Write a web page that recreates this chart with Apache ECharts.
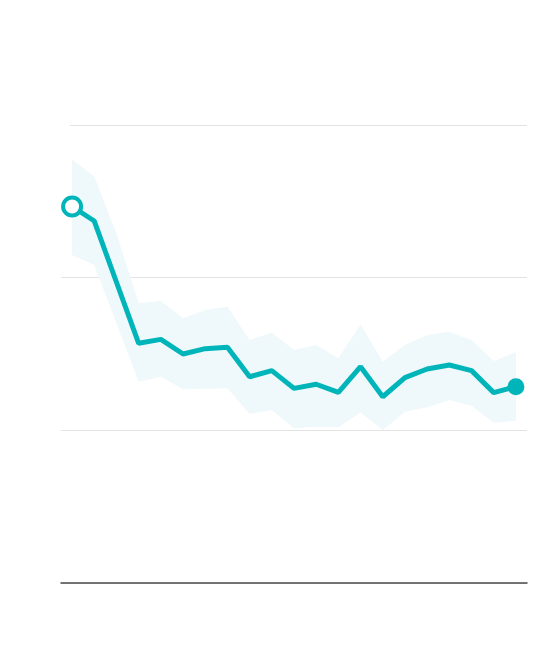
<!DOCTYPE html>
<html>
<head>
<meta charset="utf-8">
<script src="https://cdn.jsdelivr.net/npm/echarts@6/dist/echarts.min.js"></script>
<style>html,body{margin:0;padding:0;background:#fff;}#c{width:560px;height:662px;}</style>
</head>
<body>
<div id="c"></div>
<script>
var categories = ['1','2','3','4','5','6','7','8','9','10','11','12','13','14','15','16','17','18','19','20','21'];
var mainValues = [2.466,2.371,1.97,1.570,1.596,1.500,1.535,1.544,1.351,1.391,1.275,1.302,1.249,1.417,1.220,1.345,1.402,1.428,1.391,1.247,1.286];
var upperValues = [2.775,2.661,2.290,1.832,1.847,1.734,1.788,1.810,1.592,1.640,1.526,1.559,1.472,1.694,1.450,1.559,1.624,1.646,1.592,1.454,1.511];
var lowerValues = [2.148,2.083,1.701,1.319,1.351,1.269,1.273,1.275,1.107,1.133,1.013,1.024,1.020,1.118,1.002,1.122,1.151,1.199,1.161,1.050,1.063];
var yTicks = [0, 1, 2, 3];

var teal = '#00b5b9';
var gridColor = '#e3e3e3';
var bandData = upperValues.map(function(u, i){ return +(u - lowerValues[i]).toFixed(3); });
var lineData = mainValues.map(function(v, i){
  if (i === 0) return {value: v, symbol: 'circle', symbolSize: 18, itemStyle: {color: '#ffffff', borderColor: teal, borderWidth: 4}};
  if (i === mainValues.length - 1) return {value: v, symbol: 'circle', symbolSize: 17, itemStyle: {color: teal, borderColor: teal, borderWidth: 0}};
  return {value: v, symbol: 'none'};
});
var topY = yTicks[yTicks.length - 1];

var chart = echarts.init(document.getElementById('c'), null, {renderer: 'canvas'});
chart.setOption({
  animation: false,
  backgroundColor: '#ffffff',
  grid: {left: 61, right: 33, top: 125, bottom: 79},
  xAxis: [{
    type: 'category', data: categories, boundaryGap: true,
    axisLine: {show: true, lineStyle: {color: '#4a4a4a', width: 1.5}},
    axisTick: {show: false}, axisLabel: {show: false}, splitLine: {show: false}
  }, {
    type: 'value', min: -0.5, max: 20.5, show: false
  }],
  yAxis: {
    type: 'value', min: yTicks[0], max: topY, interval: 1,
    axisLine: {show: false}, axisTick: {show: false}, axisLabel: {show: false},
    splitLine: {show: true, lineStyle: {color: [gridColor, gridColor, gridColor, 'rgba(0,0,0,0)'], width: 1}}
  },
  series: [
    {type: 'line', stack: 'band', data: lowerValues, symbol: 'none', lineStyle: {opacity: 0}, silent: true, z: 1},
    {type: 'line', stack: 'band', data: bandData, symbol: 'none', lineStyle: {opacity: 0}, areaStyle: {color: '#eff8fa', opacity: 1}, silent: true, z: 1},
    {type: 'line', data: lineData, symbol: 'none', showAllSymbol: true, lineStyle: {color: teal, width: 5}, itemStyle: {color: teal}, z: 3},
    {type: 'line', xAxisIndex: 1, data: [], symbol: 'none', silent: true, z: 0,
      markLine: {silent: true, symbol: 'none', label: {show: false}, animation: false,
        lineStyle: {color: gridColor, width: 1, type: 'solid'},
        data: [[{coord: [-0.1, topY]}, {coord: [20.5, topY]}]]}}
  ]
});
</script>
</body>
</html>
